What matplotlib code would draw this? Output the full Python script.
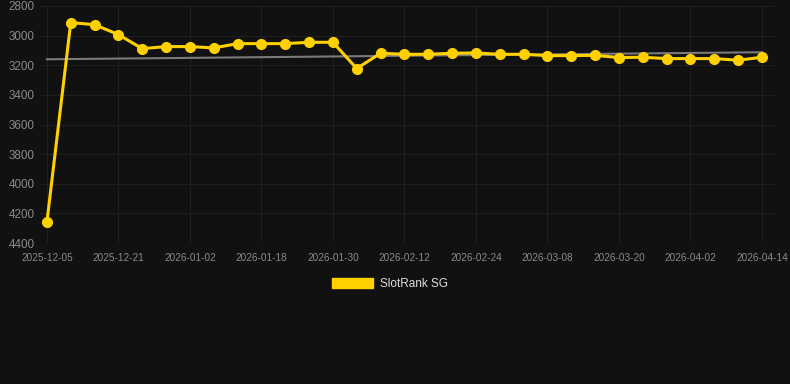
import numpy as np
import matplotlib
matplotlib.use('Agg')
import matplotlib.pyplot as plt
from matplotlib.patches import Patch

dates = ['2025-12-05', '2025-12-10', '2025-12-16', '2025-12-21', '2025-12-25',
         '2025-12-29', '2026-01-02', '2026-01-07', '2026-01-13', '2026-01-18',
         '2026-01-22', '2026-01-26', '2026-01-30', '2026-02-03', '2026-02-08',
         '2026-02-12', '2026-02-16', '2026-02-20', '2026-02-24', '2026-02-28',
         '2026-03-04', '2026-03-08', '2026-03-12', '2026-03-16', '2026-03-20',
         '2026-03-24', '2026-03-29', '2026-04-02', '2026-04-06', '2026-04-10',
         '2026-04-14']
rank = [4258, 2912, 2926, 2993, 3088, 3074, 3074, 3083, 3054, 3054,
        3054, 3045, 3045, 3222, 3119, 3126, 3126, 3119, 3117, 3126,
        3126, 3135, 3135, 3133, 3148, 3146, 3155, 3155, 3155, 3166,
        3146]
y_ticks = [2800, 3000, 3200, 3400, 3600, 3800, 4000, 4200, 4400]

bg = '#111111'
gold = '#FFD100'

plt.rcParams['font.family'] = ['Liberation Sans', 'DejaVu Sans']
fig = plt.figure(figsize=(7.9, 3.84), dpi=100, facecolor=bg)
ax = fig.add_axes([40 / 790, 1 - 243 / 384, 735 / 790, 237 / 384])
ax.set_facecolor(bg)

x = np.arange(len(dates))
# linear trend through the ranks
k, b = np.polyfit(x, rank, 1)
ax.plot(x, k * x + b, color='#7a7a7a', lw=1.5, zorder=2)
ax.plot(x, rank, color=gold, lw=2.2, marker='o', ms=7, zorder=3)

ax.set_xlim(-0.29, len(dates) - 1 + 0.55)
ax.set_ylim(4400, 2800)
ax.set_yticks(y_ticks)
ax.set_xticks(x[::3])
ax.set_xticklabels(dates[::3])
ax.tick_params(axis='x', colors='#8a8a8a', labelsize=7.2, length=0, pad=7)
ax.tick_params(axis='y', colors='#8a8a8a', labelsize=8.4, length=0, pad=4)
ax.grid(True, color='#1f1f1f', lw=0.8)
ax.set_axisbelow(True)
for s in ax.spines.values():
    s.set_visible(False)

fig.legend(handles=[Patch(facecolor=gold, edgecolor=gold, label='SlotRank SG')],
           loc='center', bbox_to_anchor=(390 / 790, 1 - 284 / 384),
           frameon=False, fontsize=8.5, labelcolor='#dddddd',
           handlelength=3.4, handleheight=0.85, handletextpad=0.6)

fig.savefig('out.png', dpi=100, facecolor=bg)
